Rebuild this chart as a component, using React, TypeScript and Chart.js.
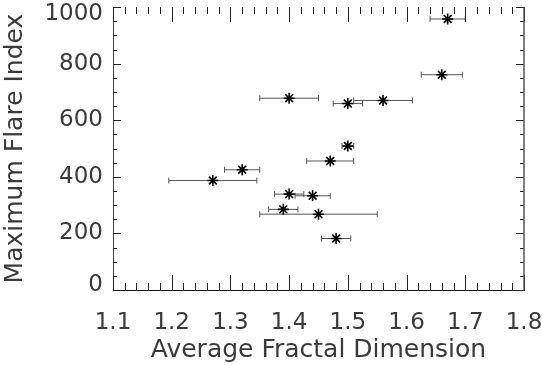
import React, { useEffect, useRef } from 'react';
import { Chart, registerables } from 'chart.js';

Chart.register(...registerables);

// Data
const fractalDim = [1.67, 1.66, 1.40, 1.50, 1.56, 1.50, 1.47, 1.32, 1.27, 1.40, 1.44, 1.39, 1.45, 1.48];
const fractalErr = [0.03, 0.035, 0.05, 0.025, 0.05, 0.01, 0.04, 0.03, 0.075, 0.025, 0.03, 0.025, 0.1, 0.025];
const flareIndex = [958, 761, 678, 659, 670, 509, 456, 425, 387, 339, 333, 285, 268, 182];
const xTickValues = [1.1, 1.2, 1.3, 1.4, 1.5, 1.6, 1.7, 1.8];
const yTickValues = [0, 200, 400, 600, 800, 1000];
const xTitle = 'Average Fractal Dimension';
const yTitle = 'Maximum Flare Index';

const FONT = '"DejaVu Sans", sans-serif';
const TEXT = '#3a3a3a';

const idlTicks = {
  id: 'idlTicks',
  afterDraw(chart: any) {
    const { ctx, chartArea: a, scales } = chart;
    const x = scales.x;
    const y = scales.y;
    ctx.save();
    ctx.strokeStyle = '#222';
    ctx.lineWidth = 1;
    ctx.beginPath();
    const xMin = xTickValues[0];
    const nx = Math.round((xTickValues[xTickValues.length - 1] - xMin) / 0.02);
    for (let i = 0; i <= nx; i++) {
      const px = Math.round(x.getPixelForValue(xMin + i * 0.02)) + 0.5;
      const len = i % 5 === 0 ? 15 : 7;
      ctx.moveTo(px, a.bottom);
      ctx.lineTo(px, a.bottom - len);
      ctx.moveTo(px, a.top);
      ctx.lineTo(px, a.top + len);
    }
    const ny = Math.round(yTickValues[yTickValues.length - 1] / 50);
    for (let i = 0; i <= ny; i++) {
      const py = Math.round(y.getPixelForValue(i * 50)) + 0.5;
      const len = i % 4 === 0 ? 8 : 4;
      ctx.moveTo(a.left, py);
      ctx.lineTo(a.left + len, py);
      ctx.moveTo(a.right, py);
      ctx.lineTo(a.right - len, py);
    }
    ctx.stroke();
    ctx.beginPath();
    ctx.strokeStyle = '#555';
    ctx.lineWidth = 1.5;
    ctx.moveTo(a.right, a.top);
    ctx.lineTo(a.right, a.bottom);
    ctx.stroke();
    ctx.restore();
  },
};

const edgeLabels = {
  id: 'edgeLabels',
  beforeDraw(chart: any) {
    const ys = chart.scales.y;
    const items = ys.getLabelItems(chart.chartArea);
    for (const it of items) {
      if (it._shifted) continue;
      if (String(it.label) === '0') it.options.translation[1] -= 5;
      if (String(it.label) === '1000') it.options.translation[1] += 7;
      it._shifted = true;
    }
  },
};

export default function App() {
  const ref = useRef<HTMLCanvasElement>(null);
  useEffect(() => {
    const errData: any[] = [];
    fractalDim.forEach((fd, i) => {
      errData.push({ x: fd - fractalErr[i], y: flareIndex[i] });
      errData.push({ x: fd + fractalErr[i], y: flareIndex[i] });
      errData.push({ x: fd, y: null });
    });
    const pts = fractalDim.map((fd, i) => ({ x: fd, y: flareIndex[i] }));
    const chart = new Chart(ref.current as HTMLCanvasElement, {
      type: 'scatter',
      data: {
        datasets: [
          {
            label: 'points',
            data: pts,
            pointStyle: 'star',
            pointRadius: 5.5,
            pointBorderColor: '#000',
            pointBackgroundColor: '#000',
            pointBorderWidth: 1.6,
          } as any,
          {
            label: 'errors',
            data: errData,
            showLine: true,
            spanGaps: false,
            borderColor: '#555',
            borderWidth: 1,
            pointStyle: 'line',
            pointRotation: 90,
            pointRadius: 3,
            pointBorderColor: '#555',
            pointBorderWidth: 1,
          } as any,
        ],
      },
      options: {
        responsive: false,
        animation: false,
        events: [],
        layout: { padding: { left: 0, top: 0, right: 18, bottom: 0 } },
        plugins: { legend: { display: false }, tooltip: { enabled: false } },
        scales: {
          x: {
            type: 'linear',
            position: 'bottom',
            min: xTickValues[0],
            max: xTickValues[xTickValues.length - 1],
            afterBuildTicks: (s: any) => {
              s.ticks = xTickValues.map((value) => ({ value }));
            },
            afterFit: (s: any) => {
              s.height = 75;
              s.paddingLeft = 0;
              s.paddingRight = 0;
            },
            grid: { display: false, drawTicks: false },
            border: { display: true, color: '#111', width: 1 },
            ticks: {
              autoSkip: false,
              maxRotation: 0,
              padding: 19,
              color: TEXT,
              font: { family: FONT, size: 23 },
              callback: (v: any) => Number(v).toFixed(1),
            },
            title: {
              display: true,
              text: xTitle,
              color: TEXT,
              font: { family: FONT, size: 25 },
              padding: { top: 0, bottom: 0 },
            },
          },
          y: {
            type: 'linear',
            position: 'left',
            min: yTickValues[0],
            max: yTickValues[yTickValues.length - 1],
            afterBuildTicks: (s: any) => {
              s.ticks = yTickValues.map((value) => ({ value }));
            },
            afterFit: (s: any) => {
              s.width = 113;
              s.paddingTop = 0;
              s.paddingBottom = 0;
            },
            grid: { display: false, drawTicks: false },
            border: { display: true, color: '#444', width: 1 },
            ticks: {
              autoSkip: false,
              padding: 10,
              color: TEXT,
              font: { family: FONT, size: 23 },
              callback: (v: any) => String(v),
            },
            title: {
              display: true,
              text: yTitle,
              color: TEXT,
              font: { family: FONT, size: 25 },
              padding: { top: 0, bottom: 0 },
            },
          },
        },
      },
      plugins: [idlTicks, edgeLabels],
    });
    return () => chart.destroy();
  }, []);
  return (
    <div style={{ position: 'absolute', left: 0, top: 0, width: 542, height: 365, background: '#fff' }}>
      <canvas ref={ref} width={542} height={365} style={{ width: 542, height: 365, display: 'block' }} />
    </div>
  );
}
